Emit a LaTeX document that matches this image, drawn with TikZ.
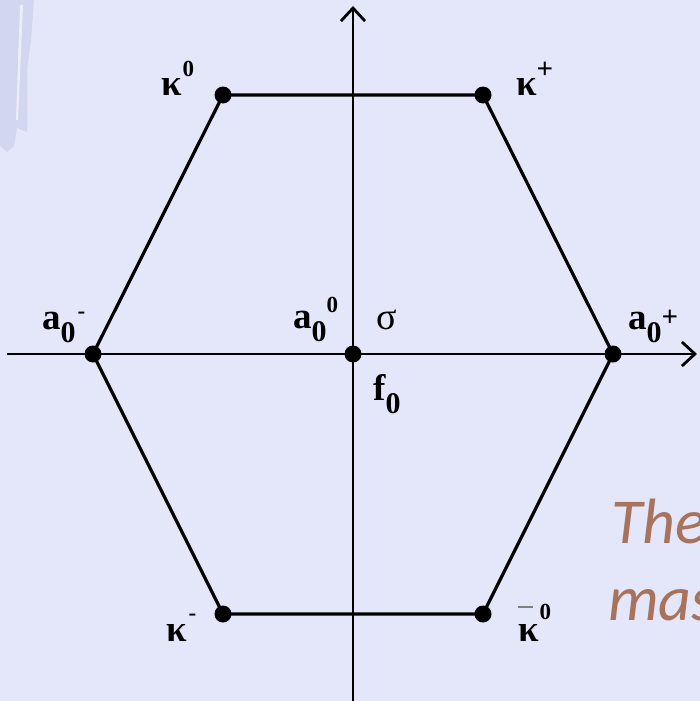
\documentclass[tikz,border=0pt]{standalone}
\usepackage{fontspec}
\setmainfont{Liberation Serif}
\newfontfamily\slidefont{Carlito}
\usetikzlibrary{arrows.meta}
\definecolor{bg}{HTML}{E4E7FA}
\definecolor{streak}{HTML}{D3D6EF}
\definecolor{browntext}{HTML}{A8735C}
\newcommand{\supr}[3]{\raisebox{#1pt}{\fontsize{#2}{#2}\selectfont #3}}
\begin{document}
\begin{tikzpicture}[x=1pt,y=-1pt,
  lab/.style={font=\fontsize{37}{37}\selectfont\bfseries, inner sep=0pt, anchor=base west},
  dot/.style={circle, fill=black, inner sep=0pt, minimum size=17pt},
  edge/.style={line width=3.2pt},
  axis/.style={line width=2.8pt, -{Straight Barb[length=13pt,width=24pt,line width=2.8pt]}},
  slidetext/.style={font=\slidefont\itshape\fontsize{64}{64}\selectfont, text=browntext, inner sep=0pt, anchor=base west}]
\useasboundingbox (0,0) rectangle (700,701);
\clip (0,0) rectangle (700,701);
\fill[bg] (0,0) rectangle (700,701);
% faint decoration top-left
\fill[streak] (0,0) -- (34,0) -- (31,40) -- (27,70) -- (27,132) -- (17,128) -- (14,146) -- (7,152) -- (0,146) -- cycle;
\fill[bg!70!white] (20,5) -- (23,5) -- (18,120) -- (16,120) -- cycle;
% axes
\coordinate (xl) at (7,354);
\coordinate (xr) at (697,354);
\coordinate (yb) at (353,701);
\coordinate (yt) at (353,6);
\draw[axis] (xl) -- (xr);
\draw[axis] (yb) -- (yt);
% vertices
\node[dot] (ak) at (93,354) {};
\node[dot] (k0) at (223,95) {};
\node[dot] (kp) at (483,95) {};
\node[dot] (ap) at (613,354) {};
\node[dot] (kb) at (483,614) {};
\node[dot] (km) at (223,614) {};
\node[dot] (c) at (353,354) {};
\draw[edge] (ak.center) -- (k0.center) -- (kp.center) -- (ap.center) -- (kb.center) -- (km.center) -- cycle;
% labels
\node[lab] (lk0) at (161,95) {κ\kern1pt\supr{18}{23}{0}};
\node[lab] (lkp) at (516,95) {κ\kern0pt\supr{17}{29}{+}};
\node[lab] (lam) at (42,329) {a\kern0pt\supr{-13}{30}{0}\kern2pt\supr{11}{23}{-}};
\node[lab] (la0) at (293,328) {a\kern0pt\supr{-13}{30}{0}\kern0pt\supr{16}{23}{0}};
\node[font=\fontsize{38}{38}\selectfont, inner sep=0pt, anchor=base west] (lsig) at (376,329) {σ};
\node[lab] (lf0) at (373,400) {f\kern0pt\supr{-13}{30}{0}};
\node[lab] (lap) at (628,329) {a\kern0pt\supr{-13}{30}{0}\kern0pt\supr{3}{29}{+}};
\node[lab] (lkm) at (166,641) {κ\kern2pt\supr{21}{23}{-}};
\node[lab] (lkb) at (518,641) {κ\kern1pt\supr{22}{23}{0}};
\draw[line width=2pt, gray] (518,607) -- (533,607);
% slide text
\node[slidetext] (t1) at (611,543) {The};
\node[slidetext] (t2) at (608,620) {mas};
\end{tikzpicture}
\end{document}
